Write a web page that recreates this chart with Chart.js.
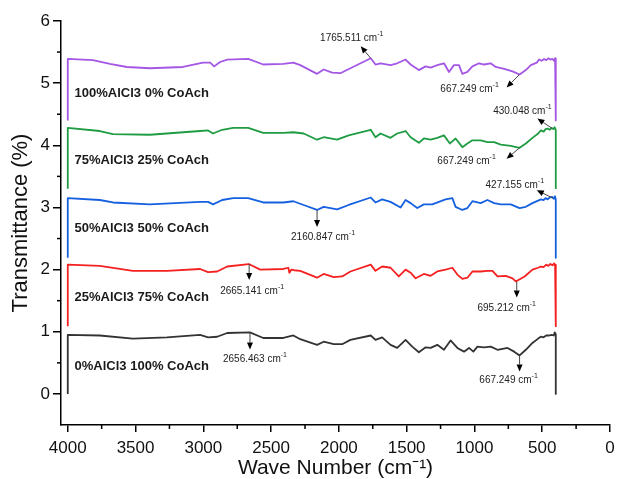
<!DOCTYPE html>
<html>
<head>
<meta charset="utf-8">
<script src="https://cdn.jsdelivr.net/npm/chart.js@4/dist/chart.umd.min.js"></script>
<style>
html,body{margin:0;padding:0;background:#fff;}
#c{display:block;}
</style>
</head>
<body>
<canvas id="c" width="617" height="479"></canvas>
<script>
// ---- Data: [wave number (cm-1), transmittance] ----
const seriesNames = ['100%AlCl3 0% CoAch', '75%AlCl3 25% CoAch', '50%AlCl3 50% CoAch', '25%AlCl3 75% CoAch', '0%AlCl3 100% CoAch'];

const purpleData = [[4000,4.40],[4000,5.39],[3815,5.37],[3689,5.31],[3564,5.26],[3394,5.24],[3150,5.26],[3002,5.33],[2950,5.33],[2920,5.27],[2876,5.34],[2824,5.38],[2669,5.39],[2558,5.30],[2410,5.31],[2336,5.33],[2285,5.29],[2161,5.15],[2112,5.22],[2050,5.17],[1989,5.16],[1915,5.24],[1765,5.40],[1730,5.30],[1693,5.32],[1619,5.29],[1570,5.32],[1508,5.38],[1471,5.30],[1410,5.21],[1360,5.27],[1323,5.25],[1274,5.29],[1225,5.32],[1188,5.18],[1151,5.29],[1114,5.29],[1089,5.15],[1052,5.18],[1015,5.27],[966,5.32],[929,5.30],[880,5.32],[843,5.26],[781,5.23],[719,5.19],[667,5.14],[621,5.21],[584,5.29],[540,5.33],[523,5.38],[505,5.36],[486,5.39],[470,5.37],[455,5.40],[440,5.38],[425,5.39],[412,5.36],[405,5.40],[400,5.34],[400,4.40]];

const greenData = [[4000,3.30],[4000,4.28],[3764,4.23],[3667,4.18],[3394,4.17],[3024,4.23],[2965,4.24],[2928,4.19],[2861,4.25],[2780,4.28],[2669,4.28],[2558,4.20],[2410,4.20],[2336,4.21],[2260,4.19],[2161,4.09],[2112,4.13],[2013,4.09],[1928,4.16],[1765,4.25],[1730,4.13],[1693,4.19],[1619,4.12],[1570,4.19],[1508,4.23],[1471,4.13],[1410,4.04],[1373,4.11],[1323,4.09],[1274,4.12],[1225,4.16],[1181,4.03],[1139,4.11],[1089,3.97],[1052,4.03],[1015,4.08],[954,4.08],[904,4.05],[855,4.05],[806,4.01],[732,3.99],[667,3.96],[621,4.03],[572,4.12],[530,4.19],[510,4.24],[490,4.22],[475,4.26],[460,4.27],[445,4.25],[430,4.28],[418,4.26],[408,4.29],[400,4.25],[400,3.31]];

const blueData = [[4000,2.19],[4000,3.15],[3764,3.12],[3667,3.08],[3394,3.05],[3024,3.09],[2965,3.09],[2928,3.05],[2861,3.12],[2780,3.15],[2669,3.15],[2558,3.08],[2410,3.08],[2336,3.10],[2260,3.04],[2161,2.96],[2112,3.01],[2013,2.97],[1928,3.04],[1765,3.16],[1730,3.08],[1681,3.13],[1619,3.09],[1545,3.00],[1508,3.12],[1471,3.07],[1422,2.99],[1373,3.05],[1311,3.05],[1262,3.09],[1213,3.13],[1163,3.15],[1139,3.01],[1089,2.96],[1052,2.99],[1015,3.10],[954,3.07],[904,3.12],[855,3.07],[806,3.05],[732,3.05],[667,2.99],[621,3.01],[572,3.07],[530,3.11],[510,3.13],[490,3.12],[475,3.15],[460,3.13],[445,3.16],[427,3.17],[415,3.14],[406,3.18],[400,3.13],[400,2.19]];

const redData = [[4000,1.09],[4000,2.08],[3764,2.06],[3520,1.98],[3268,1.98],[3024,2.01],[2965,1.96],[2898,1.97],[2824,2.05],[2665,2.09],[2580,2.00],[2410,2.01],[2373,2.03],[2365,1.95],[2350,2.00],[2330,1.99],[2285,1.98],[2161,1.87],[2112,1.93],[2038,1.88],[1976,1.89],[1915,1.97],[1765,2.08],[1730,1.98],[1681,2.05],[1619,2.03],[1558,1.89],[1508,2.00],[1471,1.95],[1434,1.86],[1373,1.93],[1323,1.90],[1274,1.97],[1213,2.00],[1163,2.03],[1126,1.92],[1089,1.85],[1052,1.87],[1015,1.97],[954,1.97],[904,1.98],[867,1.98],[830,1.89],[769,1.90],[719,1.86],[695,1.81],[630,1.89],[572,2.00],[530,2.03],[510,2.05],[490,2.04],[470,2.08],[455,2.06],[440,2.09],[425,2.07],[412,2.10],[405,2.06],[400,2.08],[400,1.09]];

const blackData = [[4000,0.00],[4000,0.95],[3764,0.94],[3520,0.89],[3268,0.91],[3024,0.95],[2965,0.91],[2898,0.92],[2824,0.98],[2656,0.99],[2558,0.90],[2410,0.90],[2336,0.94],[2285,0.88],[2161,0.79],[2112,0.84],[2038,0.80],[1976,0.80],[1915,0.87],[1765,0.94],[1730,0.87],[1681,0.91],[1619,0.79],[1570,0.74],[1508,0.87],[1459,0.76],[1410,0.67],[1360,0.75],[1323,0.74],[1274,0.79],[1225,0.71],[1176,0.86],[1126,0.74],[1077,0.68],[1040,0.74],[1008,0.68],[978,0.76],[929,0.75],[880,0.76],[830,0.71],[756,0.74],[707,0.68],[667,0.62],[621,0.71],[572,0.82],[530,0.89],[510,0.92],[490,0.91],[470,0.94],[448,0.94],[430,0.95],[415,0.94],[408,0.99],[400,0.96],[400,0.00]];

// Tick values
const xTicks = [0, 500, 1000, 1500, 2000, 2500, 3000, 3500, 4000];
const yTicks = [0, 1, 2, 3, 4, 5, 6];

// Peak annotations
const annoText = ['1765.511', '667.249', '430.048', '667.249', '427.155', '2160.847', '2665.141', '695.212', '2656.463', '667.249'];
const annoWn   = [1765, 667, 425, 667, 422, 2161, 2662, 688, 2656, 667];
const annoT    = [5.40, 5.14, 4.27, 3.96, 3.15, 2.96, 2.09, 1.81, 0.99, 0.62];

// ---- styling / layout (not data) ----
const colors = ['#a457e4', '#1f9c43', '#1560e0', '#f52020', '#333333'];
const labelAnchor = [[3950, 4.84], [3950, 3.75], [3950, 2.66], [3950, 1.55], [3950, 0.44]];
const arrowVec = [[-10,-12],[-13,13],[-15,-10],[-13,11],[-16,-8],[0,17],[0,16],[0,16],[0,17],[0,16]];
const labelOff = [[-19,-20],[-50,15],[-30,-17],[-53,13],[-38,-13],[6,27],[3,27],[-10,27],[5,27],[-11,25]];

const FONT = "'Liberation Sans', Arial, sans-serif";
const allData = [purpleData, greenData, blueData, redData, blackData];

const datasets = allData.map((d, i) => ({
  label: seriesNames[i],
  data: d.map(p => ({x: p[0], y: p[1]})),
  borderColor: colors[i],
  borderWidth: 1.8,
  pointRadius: 0,
  tension: 0,
  borderJoinStyle: 'round',
  fill: false
}));

function drawArrow(ctx, x0, y0, x1, y1) {
  const ang = Math.atan2(y1 - y0, x1 - x0);
  const hl = 7, hw = 3;
  const bx = x1 - hl * Math.cos(ang), by = y1 - hl * Math.sin(ang);
  ctx.strokeStyle = '#444';
  ctx.lineWidth = 1;
  ctx.beginPath(); ctx.moveTo(x0, y0); ctx.lineTo(bx, by); ctx.stroke();
  ctx.fillStyle = '#000';
  ctx.beginPath();
  ctx.moveTo(x1, y1);
  ctx.lineTo(bx + hw * Math.sin(ang), by - hw * Math.cos(ang));
  ctx.lineTo(bx - hw * Math.sin(ang), by + hw * Math.cos(ang));
  ctx.closePath(); ctx.fill();
}

function drawCmLabel(ctx, num, cx, cy) {
  const main = num + ' cm';
  ctx.font = '10px ' + FONT;
  const w1 = ctx.measureText(main).width;
  ctx.font = '7px ' + FONT;
  const w2 = ctx.measureText('-1').width;
  const x0 = cx - (w1 + w2) / 2;
  ctx.fillStyle = '#222';
  ctx.textBaseline = 'middle';
  ctx.textAlign = 'left';
  ctx.font = '10px ' + FONT;
  ctx.fillText(main, x0, cy);
  ctx.font = '7px ' + FONT;
  ctx.fillText('-1', x0 + w1, cy - 4);
}

const extras = {
  id: 'extras',
  afterDatasetsDraw(chart) {
    const ctx = chart.ctx;
    const xs = chart.scales.x, ys = chart.scales.y;
    const area = chart.chartArea;
    ctx.save();
    // minor ticks
    ctx.strokeStyle = '#000';
    ctx.lineWidth = 1.5;
    for (let v = 250; v < 4000; v += 500) {
      const px = xs.getPixelForValue(v);
      ctx.beginPath(); ctx.moveTo(px, area.bottom); ctx.lineTo(px, area.bottom + 4); ctx.stroke();
    }
    for (let v = 0.5; v < 6; v += 1) {
      const py = ys.getPixelForValue(v);
      ctx.beginPath(); ctx.moveTo(area.left - 4, py); ctx.lineTo(area.left, py); ctx.stroke();
    }
    // series labels
    ctx.fillStyle = '#1a1a1a';
    ctx.font = 'bold 13px ' + FONT;
    ctx.textAlign = 'left';
    ctx.textBaseline = 'middle';
    seriesNames.forEach((n, i) => {
      ctx.fillText(n, xs.getPixelForValue(labelAnchor[i][0]), ys.getPixelForValue(labelAnchor[i][1]));
    });
    // annotations
    annoText.forEach((t, i) => {
      const px = xs.getPixelForValue(annoWn[i]);
      const py = ys.getPixelForValue(annoT[i]);
      drawArrow(ctx, px, py, px + arrowVec[i][0], py + arrowVec[i][1]);
      drawCmLabel(ctx, t, px + labelOff[i][0], py + labelOff[i][1]);
    });
    ctx.restore();
  }
};

new Chart(document.getElementById('c'), {
  type: 'line',
  data: { datasets },
  options: {
    responsive: false,
    animation: false,
    layout: { padding: { left: 0, right: 7, top: 21, bottom: 0 } },
    plugins: { legend: { display: false }, tooltip: { enabled: false } },
    scales: {
      x: {
        type: 'linear',
        reverse: true,
        min: 0,
        max: 4050,
        afterBuildTicks: s => { s.ticks = xTicks.map(v => ({value: v})); },
        afterFit: s => { s.height = 54; },
        ticks: { font: { family: FONT, size: 17 }, color: '#111', padding: 6, maxRotation: 0, autoSkip: false, callback: v => String(v) },
        grid: { drawOnChartArea: false, drawTicks: true, tickLength: 7, color: '#000', lineWidth: 1.5 },
        border: { display: true, color: '#000', width: 1.5 },
        title: { display: true, text: 'Wave Number (cm\u207B\u00B9)', font: { family: FONT, size: 21, lineHeight: 1 }, color: '#111', padding: { top: 0, bottom: 0 } }
      },
      y: {
        type: 'linear',
        min: -0.5,
        max: 6,
        afterBuildTicks: s => { s.ticks = yTicks.map(v => ({value: v})); },
        afterFit: s => { s.width = 61; },
        ticks: { font: { family: FONT, size: 17 }, color: '#111', padding: 3, autoSkip: false, callback: v => String(v) },
        grid: { drawOnChartArea: false, drawTicks: true, tickLength: 8, color: '#000', lineWidth: 1.5 },
        border: { display: true, color: '#000', width: 1.5 },
        title: { display: true, text: 'Transmittance (%)', font: { family: FONT, size: 22, lineHeight: 1 }, color: '#111', padding: { top: 10, bottom: 0 } }
      }
    }
  },
  plugins: [extras]
});
</script>
</body>
</html>
